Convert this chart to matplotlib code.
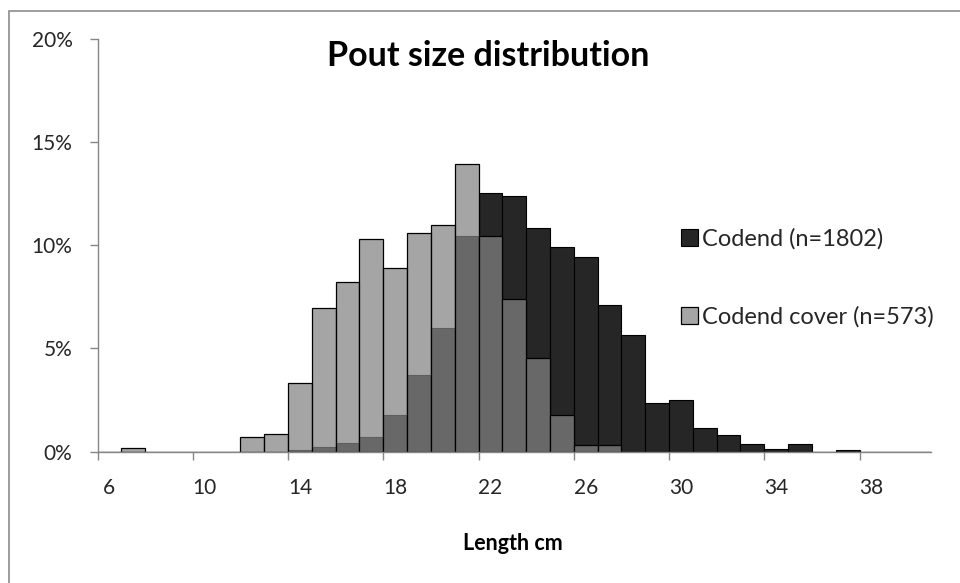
import matplotlib
matplotlib.use("Agg")
import matplotlib.pyplot as plt
from matplotlib.patches import Rectangle
from matplotlib.ticker import FuncFormatter, FixedLocator

plt.rcParams['font.family'] = ['Lato', 'DejaVu Sans']

# length classes (cm), one bar per class
lengths = list(range(6, 41))

# share of fish per length class (%)
codend = [0, 0, 0, 0, 0, 0, 0, 0, 0.06, 0.22, 0.39, 0.72, 1.78, 3.72, 5.98, 10.47,
          12.55, 12.38, 10.83, 9.94, 9.42, 7.13, 5.63, 2.36, 2.50, 1.13, 0.78, 0.36,
          0.11, 0.36, 0, 0.06, 0, 0, 0]
cover = [0, 0.17, 0, 0, 0, 0, 0.70, 0.87, 3.32, 6.98, 8.20, 10.30, 8.90, 10.60, 10.99, 13.96,
         10.47, 7.42, 4.54, 1.75, 0.30, 0.30, 0, 0, 0, 0, 0, 0,
         0, 0, 0, 0, 0, 0, 0]

labels = ['Codend (n=1802)', 'Codend cover (n=573)']
xtick_labels = [6, 10, 14, 18, 22, 26, 30, 34, 38]

fig = plt.figure(figsize=(9.6, 5.83), dpi=100)
ax = fig.add_axes([97.5 / 960, 1 - 451.5 / 583, (931 - 97.5) / 960, (451.5 - 39.3) / 583])

b1 = ax.bar(lengths, codend, width=1.0, color='#262626', edgecolor='black', linewidth=0.8,
            label=labels[0])
b2 = ax.bar(lengths, cover, width=1.0, color=(0.514, 0.514, 0.514, 0.72), edgecolor='black',
            linewidth=0.9, label=labels[1])

ax.set_xlim(5.5, 40.5)
ax.set_ylim(0, 20)
ax.set_yticks([0, 5, 10, 15, 20])
ax.yaxis.set_major_formatter(FuncFormatter(lambda v, p: '%d%%' % v))

# tick marks between classes, labels under the class itself
ax.xaxis.set_major_locator(FixedLocator([x - 0.5 for x in xtick_labels]))
ax.xaxis.set_major_formatter(FuncFormatter(lambda v, p: ''))
ax.xaxis.set_minor_locator(FixedLocator(xtick_labels))
ax.xaxis.set_minor_formatter(FuncFormatter(lambda v, p: '%d' % v))

for s in ['top', 'right']:
    ax.spines[s].set_visible(False)
for s in ['left', 'bottom']:
    ax.spines[s].set_color('#868686')
    ax.spines[s].set_linewidth(1.0)

ax.tick_params(axis='y', which='major', length=6, width=1, color='#868686', pad=12,
               labelsize=15, labelcolor='#262626')
ax.tick_params(axis='x', which='major', length=6, width=1, color='#868686')
ax.tick_params(axis='x', which='minor', length=0, pad=19, labelsize=15, labelcolor='#262626')

fig.text(488.5 / 960, 1 - 56 / 583, 'Pout size distribution', ha='center', va='center',
         fontsize=24.5, fontweight='bold', color='black')
fig.text(513 / 960, 1 - 543 / 583, 'Length cm', ha='center', va='center',
         fontsize=15.5, fontweight='bold', color='black')

fig.legend(handles=[b1, b2], loc='upper left', bbox_to_anchor=(681 / 960, 1 - 228 / 583),
           frameon=False, fontsize=17, handlelength=0.72, handleheight=0.72,
           handletextpad=0.15, labelspacing=2.4, borderpad=0, borderaxespad=0,
           labelcolor='#262626')

# outer chart border (only left and top edges fall inside the image)
fig.patches.append(Rectangle((9 / 960, -0.1), 1.2, 1 - 10.5 / 583 + 0.1, transform=fig.transFigure,
                             fill=False, edgecolor='#8c8c8c', linewidth=1.2, clip_on=False))

fig.savefig('out.png', dpi=100)
